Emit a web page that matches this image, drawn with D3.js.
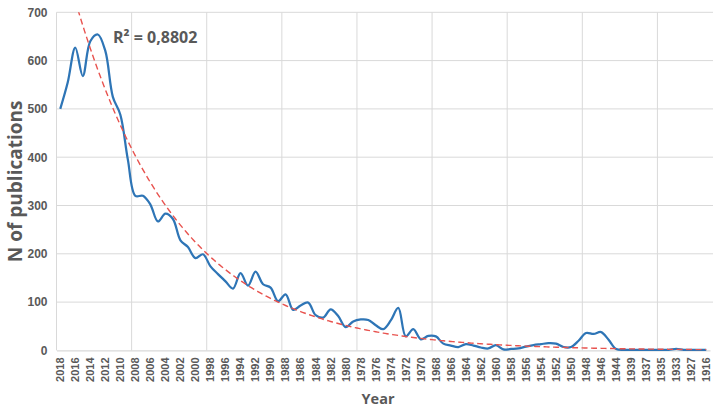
<!DOCTYPE html>
<html>
<head>
<meta charset="utf-8">
<script src="https://cdn.jsdelivr.net/npm/d3@7"></script>
<style>
  body { margin: 0; background: #fff; }
  svg { display: block; font-family: "Open Sans", sans-serif; }
</style>
</head>
<body>
<svg id="chart" width="721" height="409"></svg>
<script>
// categories, newest first (unlabelled ones sit between the shown labels)
var years = ["2018","2017","2016","2015","2014","2013","2012","2011","2010","2009",
  "2008","2007","2006","2005","2004","2003","2002","2001","2000","1999",
  "1998","1997","1996","1995","1994","1993","1992","1991","1990","1989",
  "1988","1987","1986","1985","1984","1983","1982","1981","1980","1979",
  "1978","1977","1976","1975","1974","1973","1972","1971","1970","1969",
  "1968","1967","1966","1965","1964","1963","1962","1961","1960","1959",
  "1958","1957","1956","1955","1954","1953","1952","1951","1950","1949",
  "1948","1947","1946","1945","1944","1942","1939","1938","1937","1936",
  "1935","1934","1933","1930","1927","1921","1916"];

var publications = [500, 555, 627, 568, 640, 654, 620, 525, 488, 395,
  320, 320, 302, 267, 283, 272, 228, 214, 191, 199,
  174, 158, 143, 128, 160, 134, 163, 137, 130, 102,
  116, 84, 93, 99, 73, 68, 85, 71, 48, 60,
  64, 63, 52, 44, 62, 88, 29, 44, 23, 30,
  29, 14, 10, 7, 13, 10, 6, 4, 11, 2,
  3, 4, 8, 11, 13, 15, 14, 7, 7, 20,
  36, 34, 38, 22, 3, 1, 1, 1, 1, 1,
  1, 1, 3, 1, 1, 1, 1];

var yTicks = [0, 100, 200, 300, 400, 500, 600, 700];

// exponential trendline y = a * exp(b * x), x = 1..n
var trendA = 902;
var trendB = -0.0733;
var rSquaredLabel = "R\u00b2 = 0,8802";

// ----------------- LAYOUT ----------------- //
var svg = d3.select('#chart');
var plotLeft = 56.5, plotRight = 710, plotTop = 12.3, plotBottom = 350.4;
var textColor = '#595959';
var gridColor = '#d9d9d9';

var x = d3.scaleBand()
    .domain(d3.range(years.length))
    .range([plotLeft, plotRight])
    .padding(0);
var bw = x.bandwidth();
var cx = i => x(i) + bw / 2;

var y = d3.scaleLinear()
    .domain([0, 700])
    .range([plotBottom, plotTop]);

// ----------------- GRID ----------------- //
var grid = svg.append('g');

grid.selectAll('line.h')
    .data(yTicks.filter(d => d > 0))
    .join('line')
    .attr('class', 'h')
    .attr('x1', plotLeft).attr('x2', plotRight + 3)
    .attr('y1', d => y(d)).attr('y2', d => y(d))
    .attr('stroke', gridColor).attr('stroke-width', 1);

grid.selectAll('line.v')
    .data(d3.range(0, years.length, 10))
    .join('line')
    .attr('class', 'v')
    .attr('x1', d => x(d)).attr('x2', d => x(d))
    .attr('y1', plotTop).attr('y2', plotBottom)
    .attr('stroke', gridColor).attr('stroke-width', 1);

// ----------------- AXES ----------------- //
var yAxis = d3.axisLeft(y).tickValues(yTicks).tickSize(0).tickPadding(9);
svg.append('g')
    .attr('transform', 'translate(' + plotLeft + ',0)')
    .call(yAxis)
    .call(g => g.select('.domain').remove())
    .selectAll('text')
    .attr('fill', textColor)
    .style('font-size', '12px')
    .style('font-weight', '600');

var xAxis = d3.axisBottom(x)
    .tickValues(d3.range(0, years.length, 2))
    .tickFormat(i => years[i])
    .tickSize(0);
svg.append('g')
    .attr('transform', 'translate(0,' + plotBottom + ')')
    .call(xAxis)
    .call(g => g.select('.domain').attr('stroke', '#cfcfcf'))
    .selectAll('text')
    .attr('fill', textColor)
    .style('font-size', '11px')
    .style('font-weight', '600')
    .attr('transform', 'rotate(-90)')
    .attr('text-anchor', 'end')
    .attr('x', -7)
    .attr('y', 0)
    .attr('dy', '0.35em');

// ----------------- SERIES ----------------- //
var line = d3.line()
    .x((d, i) => cx(i))
    .y(d => y(d))
    .curve(d3.curveCatmullRom.alpha(0.5));

svg.append('path')
    .datum(publications)
    .attr('d', line)
    .attr('fill', 'none')
    .attr('stroke', '#2e75b6')
    .attr('stroke-width', 2.25)
    .attr('stroke-linejoin', 'round');

// ----------------- TRENDLINE ----------------- //
svg.append('clipPath').attr('id', 'plotClip')
    .append('rect')
    .attr('x', plotLeft).attr('y', plotTop)
    .attr('width', plotRight - plotLeft).attr('height', plotBottom - plotTop);

var trendX = d3.range(1, years.length + 0.001, 0.25);
var trendLine = d3.line()
    .x(t => cx(0) + (t - 1) * bw)
    .y(t => y(trendA * Math.exp(trendB * t)));

svg.append('path')
    .datum(trendX)
    .attr('d', trendLine)
    .attr('clip-path', 'url(#plotClip)')
    .attr('fill', 'none')
    .attr('stroke', '#e8534f')
    .attr('stroke-width', 1.4)
    .attr('stroke-dasharray', '6,3.5');

// ----------------- LABELS ----------------- //
svg.append('text')
    .attr('x', 113).attr('y', 43)
    .attr('fill', textColor)
    .style('font-size', '16px')
    .style('font-weight', '700')
    .text(rSquaredLabel);

svg.append('text')
    .attr('transform', 'translate(22,' + ((plotTop + plotBottom) / 2) + ') rotate(-90)')
    .attr('text-anchor', 'middle')
    .attr('fill', textColor)
    .style('font-size', '19px')
    .style('font-weight', '700')
    .text('N of publications');

svg.append('text')
    .attr('x', 378).attr('y', 404)
    .attr('text-anchor', 'middle')
    .attr('fill', textColor)
    .style('font-size', '14.5px')
    .style('font-weight', '700')
    .text('Year');
</script>
</body>
</html>
